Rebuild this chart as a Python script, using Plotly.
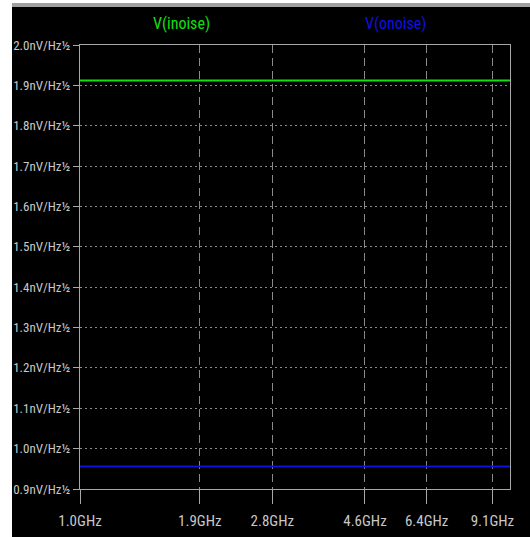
import plotly.graph_objects as go

# Noise spectral density traces (nV/Hz^1/2) across the sweep
freq_hz = [1.0e9, 10.0e9]
inoise = [1.912, 1.912]
onoise = [0.956, 0.956]

x_tick_vals = [1.0e9, 1.9e9, 2.8e9, 4.6e9, 6.4e9, 9.1e9]
x_tick_text = ["1.0GHz", "1.9GHz", "2.8GHz", "4.6GHz", "6.4GHz", "9.1GHz"]
y_tick_vals = [0.9, 1.0, 1.1, 1.2, 1.3, 1.4, 1.5, 1.6, 1.7, 1.8, 1.9, 2.0]
y_tick_text = [f"{v:.1f}nV/Hz½" for v in y_tick_vals]

FONT = "Roboto Condensed, Liberation Sans Narrow, sans-serif"
LABEL = "#c8c8c8"
GRID = "#8a8a8a"
FRAME = "#a8a8a8"
GREEN = "#10e010"
BLUE = "#1010e0"

fig = go.Figure()
fig.add_trace(go.Scatter(x=freq_hz, y=inoise, mode="lines",
                         line=dict(color=GREEN, width=2), name="V(inoise)"))
fig.add_trace(go.Scatter(x=freq_hz, y=onoise, mode="lines",
                         line=dict(color=BLUE, width=2), name="V(onoise)"))

# plot area: 430 x 444 px starting at (80, 45)
W, H, L, T = 530, 537, 80, 45
PW, PH = 430, 444

def px(xp):
    return (xp - L) / PW

def py(yp):
    return (T + PH - yp) / PH

shapes = [
    # black window background
    dict(type="rect", xref="paper", yref="paper", x0=px(12), x1=px(531),
         y0=py(538), y1=py(7), fillcolor="black", line=dict(width=0), layer="below"),
    # window title bar edge
    dict(type="rect", xref="paper", yref="paper", x0=px(12), x1=px(531),
         y0=py(7), y1=py(3), fillcolor="#a0a0a0", line=dict(width=0), layer="below"),
]

fig.update_layout(
    width=W, height=H,
    margin=dict(l=L, r=W - L - PW, t=T, b=H - T - PH, pad=0, autoexpand=False),
    paper_bgcolor="white",
    plot_bgcolor="black",
    showlegend=False,
    shapes=shapes,
    font=dict(family=FONT, color=LABEL, size=14),
    annotations=[
        dict(text="V(inoise)", xref="paper", yref="paper", x=px(181.5), y=py(24),
             showarrow=False, font=dict(family=FONT, size=16, color=GREEN),
             xanchor="center", yanchor="middle"),
        dict(text="V(onoise)", xref="paper", yref="paper", x=px(395.5), y=py(24),
             showarrow=False, font=dict(family=FONT, size=16, color=BLUE),
             xanchor="center", yanchor="middle"),
    ],
)

fig.update_xaxes(
    type="log", range=[9, 10], automargin=False,
    tickvals=x_tick_vals, ticktext=x_tick_text,
    showgrid=True, gridcolor=GRID, griddash="8px,5px", gridwidth=1,
    showline=True, linecolor=FRAME, linewidth=1, mirror=True,
    ticks="outside", ticklen=14, tickcolor=FRAME, tickwidth=1,
    ticklabelstandoff=4,
    tickfont=dict(family=FONT, size=15, color=LABEL),
    zeroline=False,
)
fig.update_yaxes(
    range=[0.9, 2.0], automargin=False,
    tickvals=y_tick_vals, ticktext=y_tick_text,
    showgrid=True, gridcolor=GRID, griddash="2px,3px", gridwidth=1,
    showline=True, linecolor=FRAME, linewidth=1, mirror=True,
    ticks="outside", ticklen=6, tickcolor=FRAME, tickwidth=1,
    tickfont=dict(family=FONT, size=13, color=LABEL),
    zeroline=False,
)

fig.write_html("out.html")
